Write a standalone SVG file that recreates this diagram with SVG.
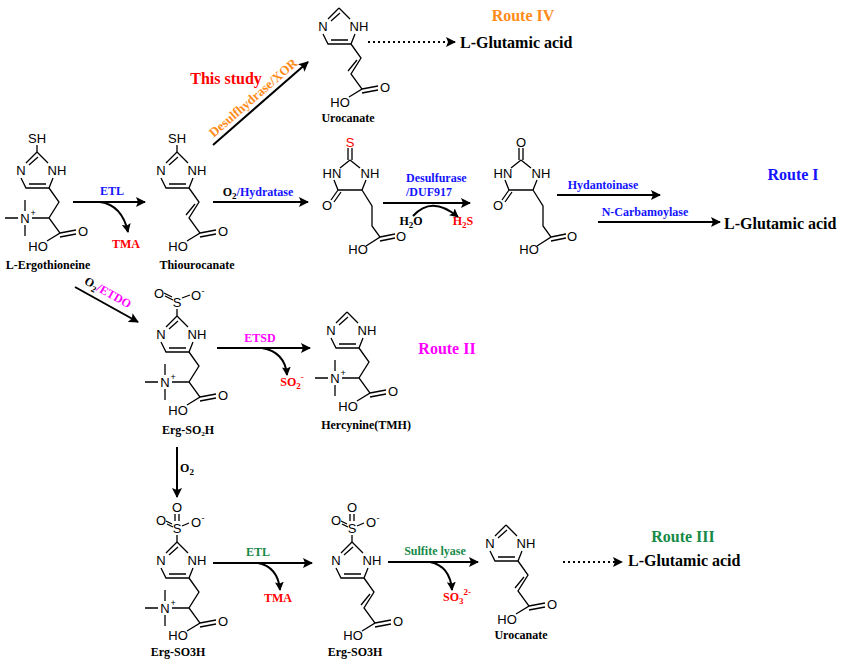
<svg xmlns="http://www.w3.org/2000/svg" width="861" height="661" viewBox="0 0 861 661">
<defs>
<marker id="ah" viewBox="0 0 10 10" refX="9" refY="5" markerWidth="12" markerHeight="10" markerUnits="userSpaceOnUse" orient="auto"><path d="M0,0L10,5L0,10L2,5z" fill="#000"/></marker>
<marker id="ahs" viewBox="0 0 10 10" refX="9" refY="5" markerWidth="9" markerHeight="9" markerUnits="userSpaceOnUse" orient="auto"><path d="M0,0L10,5L0,10L2,5z" fill="#000"/></marker>
<path id="ring" d="M0,0L-11,11M1,5L-8,13M-16,26L-11,36L12,36L16,26M11,11L0,0M-8,32L9,32"/>
<path id="echain" d="M12,36L22,50L12,66L23,81L10,89M23,81L39,78M23,85L39,82M12,66L-5,66M-12,59L-12,48M-19,66L-32,66M-12,73L-12,84"/>
<path id="uchain" d="M12,36L22,50L12,66L23,81L10,89M18,52L9,63M23,81L39,78M23,85L39,82"/>
</defs>
<style>
.b{stroke:#000;stroke-width:1.3;fill:none}
.at{font-family:"Liberation Sans",Arial,sans-serif;font-size:13px;text-anchor:middle}
.sm{font-size:9px}
.lb{font-family:"Liberation Serif","Times New Roman",serif;font-weight:bold;font-size:12px;text-anchor:middle}
.rt{font-family:"Liberation Serif","Times New Roman",serif;font-weight:bold;font-size:16px;text-anchor:middle}
.st{text-anchor:start}
.big{font-size:13px}
.ln{stroke:#000;stroke-width:2;fill:none}
.blue{fill:#1414ff}.mag{fill:#ff00ff}.grn{fill:#178a48}.red{fill:#ff0000}.org{fill:#ff8c1a}
</style>
<rect width="861" height="661" fill="#fff"/>

<g id="ergothioneine" transform="translate(37,152)">
<use href="#ring" class="b"/><use href="#echain" class="b"/><path class="b" d="M0,0L0,-7"/>
<text class="at" x="0" y="-9">SH</text><text class="at" x="-16" y="23">N</text><text class="at" x="20" y="23">NH</text>
<text class="at" x="-12" y="71">N</text><text class="at sm" x="-4" y="64">+</text>
<text class="at" x="46" y="84">O</text><text class="at" x="1" y="99">HO</text>
<text class="lb" x="11" y="117">L-Ergothioneine</text>
</g>

<g id="thiourocanate" transform="translate(177,152)">
<use href="#ring" class="b"/><use href="#uchain" class="b"/><path class="b" d="M0,0L0,-7"/>
<text class="at" x="0" y="-9">SH</text><text class="at" x="-16" y="23">N</text><text class="at" x="20" y="23">NH</text>
<text class="at" x="46" y="84">O</text><text class="at" x="1" y="99">HO</text>
<text class="lb" x="20" y="117">Thiourocanate</text>
</g>

<g id="urocanate1" transform="translate(339,8)">
<use href="#ring" class="b"/><use href="#uchain" class="b"/>
<text class="at" x="-16" y="23">N</text><text class="at" x="20" y="23">NH</text>
<text class="at" x="46" y="84">O</text><text class="at" x="1" y="99">HO</text>
<text class="lb" x="9" y="114">Urocanate</text>
</g>

<g id="thiohydantoin" transform="translate(350,160)">
<path class="b" d="M-2,0L-2,-12M2,0L2,-12M0,0L-10,8M0,0L10,8M-16,20L-12,30L12,30L16,20M-12,30L-19,40M-9,32L-16,42M12,30L22,46L22,66L30,77L16,86M30,77L45,74M30,81L45,78"/>
<text class="at red" x="0" y="-13">S</text><text class="at" x="-18" y="18">HN</text><text class="at" x="20" y="18">NH</text>
<text class="at" x="-23" y="50">O</text><text class="at" x="51" y="81">O</text><text class="at" x="8" y="94">HO</text>
</g>

<g id="hydantoin" transform="translate(521,160)">
<path class="b" d="M-2,0L-2,-12M2,0L2,-12M0,0L-10,8M0,0L10,8M-16,20L-12,30L12,30L16,20M-12,30L-19,40M-9,32L-16,42M12,30L22,46L22,66L30,77L16,86M30,77L45,74M30,81L45,78"/>
<text class="at" x="0" y="-13">O</text><text class="at" x="-18" y="18">HN</text><text class="at" x="20" y="18">NH</text>
<text class="at" x="-23" y="50">O</text><text class="at" x="51" y="81">O</text><text class="at" x="8" y="94">HO</text>
</g>

<g id="ergso2h" transform="translate(177,316)">
<use href="#ring" class="b"/><use href="#echain" class="b"/><path class="b" d="M0,0L0,-7M-5,-19L-13,-23M-4,-16L-12,-20M5,-18L13,-21"/>
<text class="at" x="0" y="-9">S</text><text class="at" x="-18" y="-18">O</text><text class="at" x="19" y="-16">O</text><text class="at sm" x="26" y="-22">-</text>
<text class="at" x="-16" y="23">N</text><text class="at" x="20" y="23">NH</text>
<text class="at" x="-12" y="71">N</text><text class="at sm" x="-4" y="64">+</text>
<text class="at" x="46" y="84">O</text><text class="at" x="1" y="99">HO</text>
<text class="lb" x="11" y="118">Erg-SO₂H</text>
</g>

<g id="hercynine" transform="translate(347,312)">
<use href="#ring" class="b"/><use href="#echain" class="b"/>
<text class="at" x="-16" y="23">N</text><text class="at" x="20" y="23">NH</text>
<text class="at" x="-12" y="71">N</text><text class="at sm" x="-4" y="64">+</text>
<text class="at" x="46" y="84">O</text><text class="at" x="1" y="99">HO</text>
<text class="lb" x="19" y="117">Hercynine(TMH)</text>
</g>

<g id="ergso3h1" transform="translate(177,542)">
<use href="#ring" class="b"/><use href="#echain" class="b"/><path class="b" d="M0,0L0,-7M-2,-21L-2,-28M2,-21L2,-28M-5,-18L-11,-21M-4,-15L-10,-18M5,-16L12,-19"/>
<text class="at" x="0" y="-9">S</text><text class="at" x="0" y="-30">O</text><text class="at" x="-16" y="-17">O</text><text class="at" x="19" y="-15">O</text><text class="at sm" x="26" y="-21">-</text>
<text class="at" x="-16" y="23">N</text><text class="at" x="20" y="23">NH</text>
<text class="at" x="-12" y="71">N</text><text class="at sm" x="-4" y="64">+</text>
<text class="at" x="46" y="84">O</text><text class="at" x="1" y="98">HO</text>
<text class="lb" x="1" y="114">Erg-SO3H</text>
</g>

<g id="ergso3h2" transform="translate(352,542)">
<use href="#ring" class="b"/><use href="#uchain" class="b"/><path class="b" d="M0,0L0,-7M-2,-21L-2,-28M2,-21L2,-28M-5,-18L-11,-21M-4,-15L-10,-18M5,-16L12,-19"/>
<text class="at" x="0" y="-9">S</text><text class="at" x="0" y="-30">O</text><text class="at" x="-16" y="-17">O</text><text class="at" x="19" y="-15">O</text><text class="at sm" x="26" y="-21">-</text>
<text class="at" x="-16" y="23">N</text><text class="at" x="20" y="23">NH</text>
<text class="at" x="46" y="84">O</text><text class="at" x="1" y="98">HO</text>
<text class="lb" x="3" y="114">Erg-SO3H</text>
</g>

<g id="urocanate2" transform="translate(506,525)">
<use href="#ring" class="b"/><use href="#uchain" class="b"/>
<text class="at" x="-16" y="23">N</text><text class="at" x="20" y="23">NH</text>
<text class="at" x="46" y="84">O</text><text class="at" x="1" y="99">HO</text>
<text class="lb" x="15" y="114">Urocanate</text>
</g>

<g id="connectors">
<path class="ln" d="M73,202L145,202" marker-end="url(#ah)"/>
<path class="ln" d="M100,202Q122,205 128,232" marker-end="url(#ahs)"/>
<path class="ln" d="M213,145L308,62" marker-end="url(#ah)"/>
<path class="ln" d="M368,42L455,42" stroke-dasharray="2,3" marker-end="url(#ah)"/>
<path class="ln" d="M213,202L308,202" marker-end="url(#ah)"/>
<path class="ln" d="M383,203L470,203" marker-end="url(#ah)"/>
<path class="ln" d="M413,216Q432,195 458,217" marker-end="url(#ahs)"/>
<path class="ln" d="M557,195L660,195" marker-end="url(#ah)"/>
<path class="ln" d="M598,222L720,222" marker-end="url(#ah)"/>
<path class="ln" d="M75,287L138,322" marker-end="url(#ah)"/>
<path class="ln" d="M217,348L310,348" marker-end="url(#ah)"/>
<path class="ln" d="M262,348Q285,352 287,375" marker-end="url(#ahs)"/>
<path class="ln" d="M177,447L177,497" marker-end="url(#ah)"/>
<path class="ln" d="M213,563L312,563" marker-end="url(#ah)"/>
<path class="ln" d="M258,563Q278,567 280,590" marker-end="url(#ahs)"/>
<path class="ln" d="M388,562L478,562" marker-end="url(#ah)"/>
<path class="ln" d="M430,562Q450,566 452,590" marker-end="url(#ahs)"/>
<path class="ln" d="M563,562L622,562" stroke-dasharray="2,3" marker-end="url(#ah)"/>
</g>

<g id="labels">
<text class="lb blue" x="112" y="195">ETL</text>
<text class="lb red" x="126" y="248">TMA</text>
<text class="lb org big" transform="translate(256,101) rotate(-41)">Desulfhydrase/XOR</text>
<text class="rt red" x="226" y="84">This study</text>
<text class="rt org" x="523" y="21">Route IV</text>
<text class="rt st" x="460" y="48">L-Glutamic acid</text>
<text class="lb" x="258" y="196">O<tspan font-size="9" dy="3">2</tspan><tspan class="blue" dy="-3">/Hydratase</tspan></text>
<text class="lb blue st" x="406" y="182">Desulfurase</text>
<text class="lb blue st" x="406" y="196">/DUF917</text>
<text class="lb" x="411" y="225">H<tspan font-size="9" dy="3">2</tspan><tspan dy="-3">O</tspan></text>
<text class="lb red" x="463" y="225">H<tspan font-size="9" dy="3">2</tspan><tspan dy="-3">S</tspan></text>
<text class="lb blue" x="603" y="189">Hydantoinase</text>
<text class="lb blue" x="645" y="216">N-Carbamoylase</text>
<text class="rt st" x="724" y="229">L-Glutamic acid</text>
<text class="rt blue" x="793" y="180">Route I</text>
<text class="lb" transform="translate(106,296) rotate(29)">O<tspan font-size="9" dy="3">2</tspan><tspan class="mag" dy="-3">/ETDO</tspan></text>
<text class="lb mag" x="260" y="342">ETSD</text>
<text class="lb red" x="292" y="386">SO<tspan font-size="9" dy="3">2</tspan><tspan font-size="9" dy="-9">-</tspan></text>
<text class="rt mag" x="447" y="354">Route II</text>
<text class="lb" x="187" y="472">O<tspan font-size="9" dy="3">2</tspan></text>
<text class="lb grn" x="258" y="556">ETL</text>
<text class="lb red" x="278" y="602">TMA</text>
<text class="lb grn" x="435" y="555">Sulfite lyase</text>
<text class="lb red" x="457" y="601">SO<tspan font-size="9" dy="3">3</tspan><tspan font-size="9" dy="-9">2-</tspan></text>
<text class="rt st" x="628" y="566">L-Glutamic acid</text>
<text class="rt grn" x="683" y="542">Route III</text>
</g>
</svg>
